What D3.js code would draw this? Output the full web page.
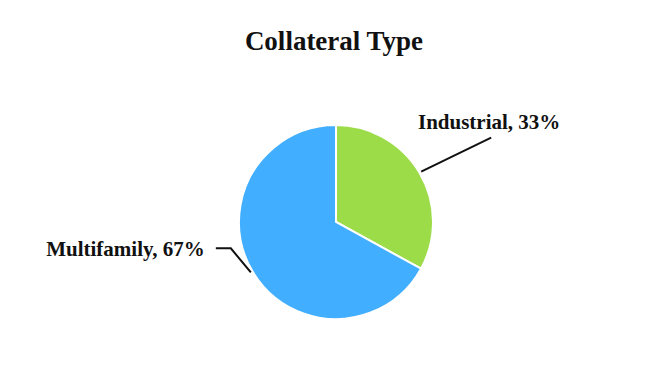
<!DOCTYPE html>
<html lang="en">
<head>
    <meta charset="UTF-8">
    <title>Collateral Type</title>
    <script src="https://d3js.org/d3.v7.min.js"></script>
    <style>
        body { margin: 0; background: #fff; }
        text { font-family: "Liberation Serif", "Times New Roman", serif; font-weight: bold; fill: #111; }
        .leader { fill: none; stroke: #111; stroke-width: 2px; }
    </style>
</head>
<body>
    <svg width="672" height="384"></svg>
    <script>
        // Data
        const categories = ["Industrial", "Multifamily"];
        const shares = [33, 67];
        const colors = ["#9cdc48", "#42aeff"];

        const width = 672, height = 384;
        const cx = 336, cy = 222, radius = 97;

        const svg = d3.select("svg");

        svg.append("text")
            .attr("x", 334)
            .attr("y", 50)
            .attr("text-anchor", "middle")
            .style("font-size", "27px")
            .text("Collateral Type");

        const pie = d3.pie().sort(null).value(d => d.value);
        const arcs = pie(categories.map((c, i) => ({ name: c, value: shares[i], color: colors[i] })));
        const arc = d3.arc().innerRadius(0).outerRadius(radius);

        const g = svg.append("g").attr("transform", `translate(${cx},${cy})`);

        g.selectAll("path")
            .data(arcs)
            .enter()
            .append("path")
            .attr("d", arc)
            .attr("fill", d => d.data.color)
            .attr("stroke", "#fff")
            .attr("stroke-width", 2);

        // Leader lines and labels
        const edge = d3.arc().innerRadius(radius * 1.02).outerRadius(radius * 1.02);

        arcs.forEach(d => {
            const p0 = edge.centroid(d);
            const right = (d.startAngle + d.endAngle) / 2 < Math.PI;
            if (right) {
                const p1 = [p0[0] + 70, p0[1] - 34];
                g.append("polyline").attr("class", "leader")
                    .attr("points", [p0, p1].map(p => p.join(",")).join(" "));
                g.append("text")
                    .attr("x", p1[0] - 2)
                    .attr("y", p1[1] - 9)
                    .attr("text-anchor", "middle")
                    .style("font-size", "21px")
                    .text(`${d.data.name}, ${d.data.value}%`);
            } else {
                const p1 = [p0[0] - 20, p0[1] - 24];
                const p2 = [p1[0] - 15, p1[1]];
                g.append("polyline").attr("class", "leader")
                    .attr("points", [p0, p1, p2].map(p => p.join(",")).join(" "));
                g.append("text")
                    .attr("x", p2[0] - 11)
                    .attr("y", p2[1] + 8)
                    .attr("text-anchor", "end")
                    .style("font-size", "21px")
                    .text(`${d.data.name}, ${d.data.value}%`);
            }
        });
    </script>
</body>
</html>
